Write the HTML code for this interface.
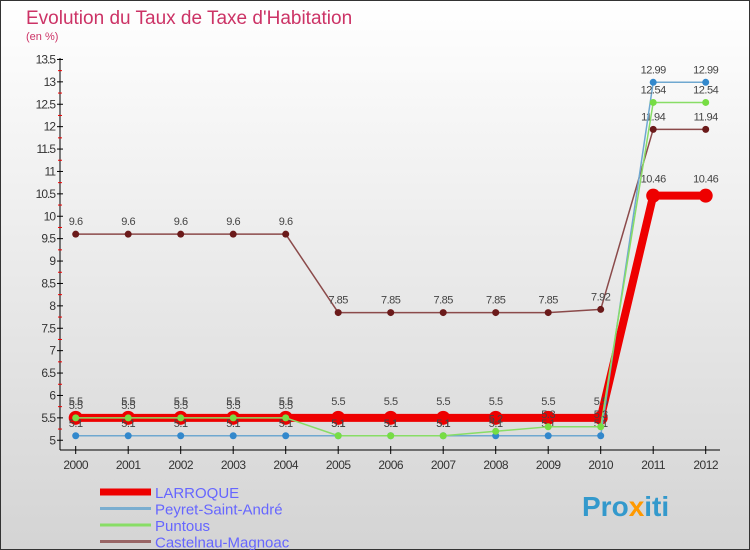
<!DOCTYPE html>
<html><head><meta charset="utf-8"><style>
body{margin:0;width:750px;height:550px;overflow:hidden;font-family:"Liberation Sans",sans-serif}
svg{display:block}
</style></head><body>
<svg id="chart" width="750" height="550" xmlns="http://www.w3.org/2000/svg">
<defs><linearGradient id="bg" x1="0" y1="0" x2="0" y2="1"><stop offset="0" stop-color="#ffffff"/><stop offset="1" stop-color="#d4d4d4"/></linearGradient></defs>
<rect x="0.5" y="0.5" width="749" height="549" fill="url(#bg)" stroke="#333"/>
<text x="26" y="24" font-size="19" fill="#cc3366">Evolution du Taux de Taxe d'Habitation</text>
<text x="26" y="40" font-size="11" fill="#cc3366">(en %)</text>
<g id="axes"></g><g id="series"></g><g id="legend"></g>
<text x="582" y="516" font-size="28" font-weight="bold" fill="#3399cc">Pro<tspan fill="#ff9900">x</tspan>iti</text>
</svg>
<script>
const years=[2000,2001,2002,2003,2004,2005,2006,2007,2008,2009,2010,2011,2012];
const yTicks=[5,5.5,6,6.5,7,7.5,8,8.5,9,9.5,10,10.5,11,11.5,12,12.5,13,13.5];
const larroque=[5.5,5.5,5.5,5.5,5.5,5.5,5.5,5.5,5.5,5.5,5.5,10.46,10.46];
const peyret=[5.1,5.1,5.1,5.1,5.1,5.1,5.1,5.1,5.1,5.1,5.1,12.99,12.99];
const puntous=[5.5,5.5,5.5,5.5,5.5,5.1,5.1,5.1,5.2,5.3,5.3,12.54,12.54];
const castelnau=[9.6,9.6,9.6,9.6,9.6,7.85,7.85,7.85,7.85,7.85,7.92,11.94,11.94];
const seriesNames=["LARROQUE","Peyret-Saint-André","Puntous","Castelnau-Magnoac"];
const NS="http://www.w3.org/2000/svg";
const X=i=>75.7+i*52.5;
const Y=v=>82.3+(12.99-v)*44.8;
function mk(p,t,a){const e=document.createElementNS(NS,t);for(const k in a)e.setAttribute(k,a[k]);p.appendChild(e);return e;}
const ax=document.getElementById('axes');
let l=mk(ax,'line',{x1:60,y1:58,x2:60,y2:450,stroke:'#000'});


l=mk(ax,'line',{x1:60,y1:450,x2:720,y2:450,stroke:'#000'});


yTicks.forEach((v,i)=>{const y=Y(v);
 mk(ax,'line',{x1:57,y1:y,x2:63,y2:y,stroke:'#000'});
 if(i<yTicks.length-1)mk(ax,'line',{x1:58,y1:Y(v+0.25),x2:62,y2:Y(v+0.25),stroke:'#e00'});
 const t=mk(ax,'text',{x:55,y:y+4,'font-size':12,'text-anchor':'end',fill:'#333','letter-spacing':'-1'});t.textContent=String(v);
 
 });
years.forEach((yr,i)=>{const x=X(i);
 mk(ax,'line',{x1:x,y1:446,x2:x,y2:454,stroke:'#000'});
 const t=mk(ax,'text',{x:x,y:469,'font-size':12,'text-anchor':'middle',fill:'#333','letter-spacing':'-0.5'});t.textContent=yr;
 
 });
const sg=document.getElementById('series');
function draw(vals,name,color,w,r,dot,lblOff){
 const g=mk(sg,'g',{});
 
 
 mk(g,'polyline',{points:vals.map((v,i)=>X(i)+','+Y(v)).join(' '),fill:'none',stroke:color,'stroke-width':w,'stroke-linejoin':'round'});
 vals.forEach((v,i)=>{const c=mk(g,'circle',{cx:X(i),cy:Y(v),r:r,fill:dot});
  
  
  const t=mk(g,'text',{x:X(i),y:Y(v)+lblOff,'font-size':11,'text-anchor':'middle',fill:'#444','letter-spacing':'-0.5'});t.textContent=String(v);
  
  });
}
draw(castelnau,'castelnau-magnoac','#8b4a4a',1.5,3.5,'#6b1a1a',-9);
draw(larroque,'larroque','#ee0000',8,7,'#ee0000',-13);
draw(peyret,'peyret-saint-andre','#6fa8d0',1.5,3.5,'#3388cc',-9);
draw(puntous,'puntous','#88dd66',1.5,3.5,'#77dd44',-9);
const lg=document.getElementById('legend');
const lc=['#ee0000','#7aaed0','#88dd66','#996666'],lw=[7,3,3,3];
seriesNames.forEach((n,i)=>{const y=492+i*16.5;
 const g=mk(lg,'g',{});
 
 
 mk(g,'line',{x1:100,y1:y,x2:151,y2:y,stroke:lc[i],'stroke-width':lw[i]});
 const t=mk(g,'text',{x:155,y:y+6,'font-size':15,fill:'#6666ff'});t.textContent=n;});
</script>
</body></html>
